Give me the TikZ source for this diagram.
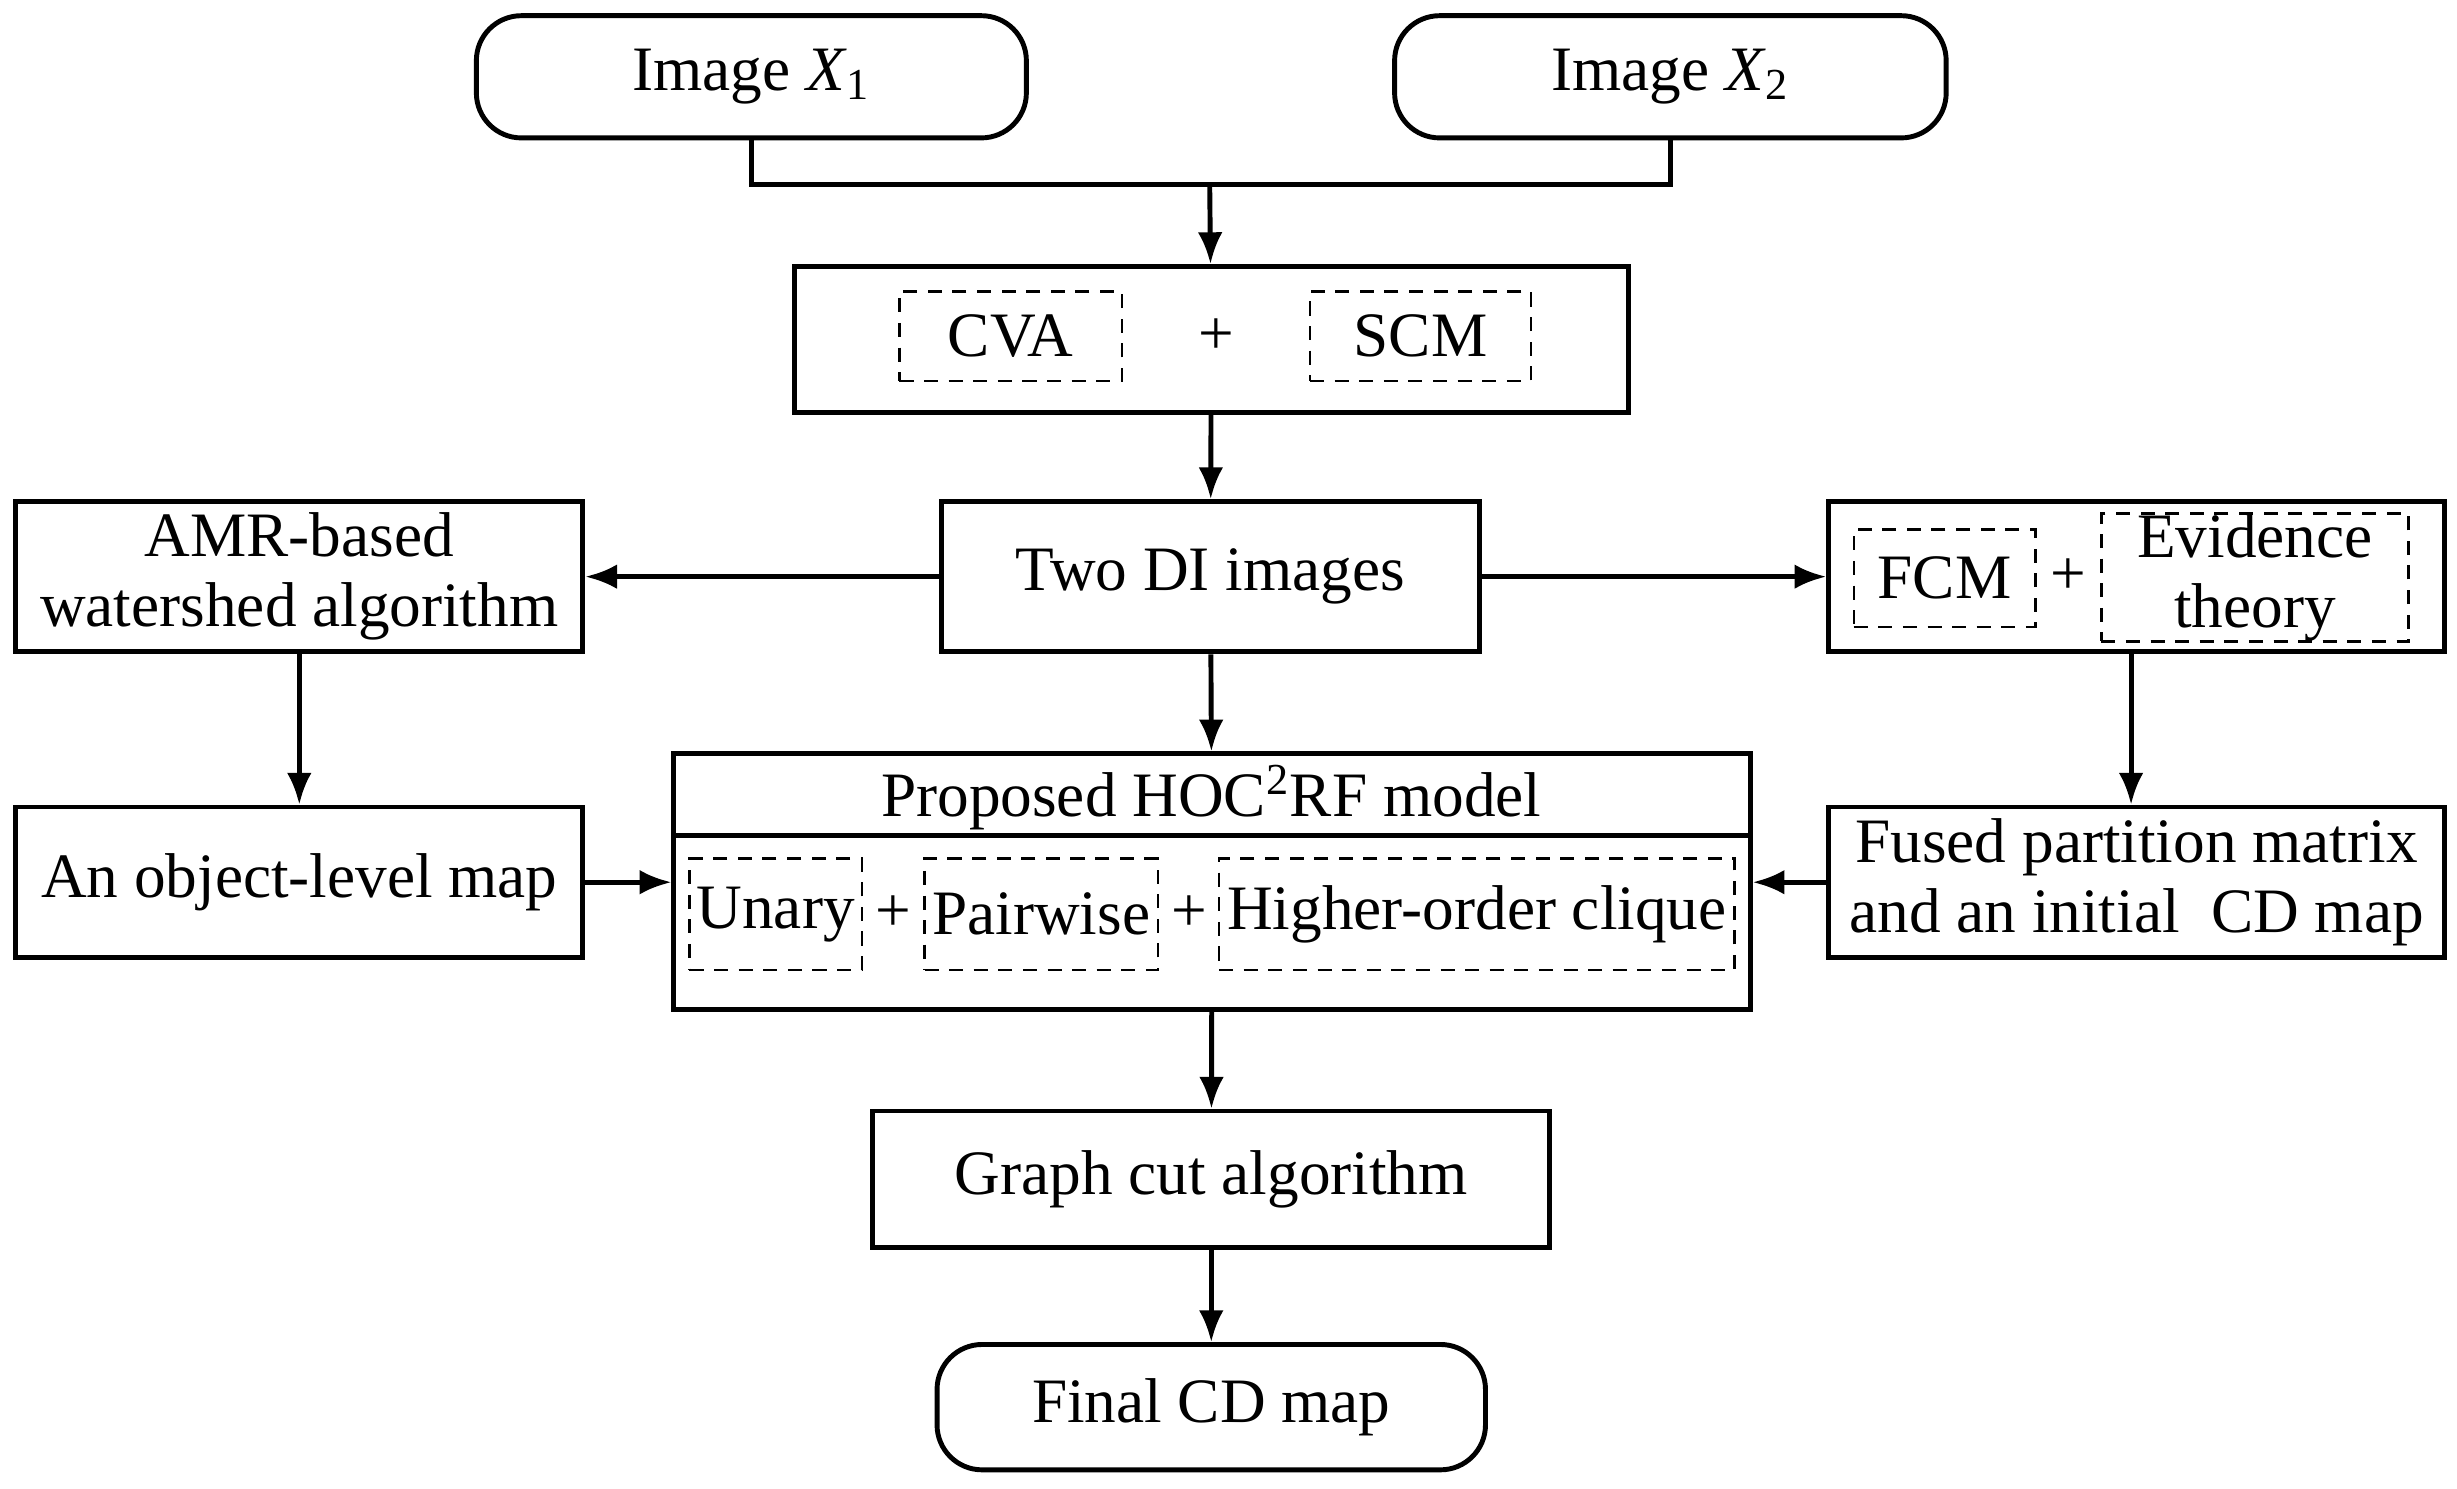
\documentclass[tikz,border=0pt]{standalone}
\usepackage{fontspec}
\setmainfont{Liberation Serif}
\usetikzlibrary{arrows.meta}
\newcommand\bx[7]{\node[#1,minimum width={(#5-#3)*0.01567cm},minimum height={(#6-#4)*0.01567cm}] (#2) at ({(#3+#5)/2},{-(#4+#6)/2}) {#7};}
\begin{document}
\begin{tikzpicture}[x=0.01567cm,y=0.01567cm,
  every node/.style={font=\fontsize{18}{20}\selectfont,inner sep=0pt,align=center},
  box/.style={draw,line width=1.4pt},
  rbox/.style={box,rounded corners=0.45cm},
  dbox/.style={draw,dashed,line width=0.7pt,dash pattern=on 4pt off 3pt},
  arr/.style={line width=1.4pt,-{Latex[length=9pt,width=7pt]}},
  ln/.style={line width=1.4pt}]
\useasboundingbox (0,0) rectangle (1568,-950);
\bx{rbox}{x1}{304}{10}{655}{88}{Image \textit{X}\textsubscript{1}}
\bx{rbox}{x2}{890}{10}{1242}{88}{Image \textit{X}\textsubscript{2}}
\coordinate (j) at (772,-118);
\draw[ln] (x1.south) |- (j) -| (x2.south);
\bx{box}{cva}{507}{170}{1039}{263}{}
\bx{dbox}{cvai}{574}{186}{716}{243}{CVA}
\bx{dbox}{scm}{836}{186}{977}{243}{SCM}
\node (p1) at (776,-215) {+};
\draw[arr] (j) -- (cva);
\bx{box}{di}{601}{320}{944}{416}{Two DI images}
\draw[arr] (cva) -- (di);
\bx{box}{amr}{10}{320}{372}{416}{AMR-based\\watershed algorithm}
\draw[arr] (di) -- (amr);
\bx{box}{fe}{1167}{320}{1560}{416}{}
\bx{dbox}{fcm}{1183}{338}{1299}{400}{FCM}
\bx{dbox}{ev}{1341}{330}{1537}{407}{Evidence\\theory}
\node (p2) at (1320,-368) {+};
\draw[arr] (di) -- (fe);
\bx{box}{obj}{10}{515}{372}{611}{An object-level map}
\draw[arr] (amr) -- (obj);
\bx{box}{hoc}{430}{481}{1117}{644}{}
\node (ht) at (773,-509) {Proposed HOC\textsuperscript{2}RF model};
\draw[ln] (hoc.west |- 0,-533) -- (hoc.east |- 0,-533);
\bx{dbox}{un}{440}{548}{550}{619}{Unary}
\bx{dbox}{pw}{590}{548}{739}{619}{Pairwise}
\bx{dbox}{hi}{778}{548}{1107}{619}{Higher-order clique}
\node (p3) at (570,-583) {+};
\node (p4) at (759,-583) {+};
\draw[arr] (di) -- (hoc);
\draw[arr] (obj) -- (obj -| hoc.west);
\bx{box}{fu}{1167}{515}{1560}{611}{Fused partition matrix\\and an initial\ \ CD map}
\draw[arr] (fe.south -| 1360,0) -- (fu.north -| 1360,0);
\draw[arr] (fu) -- (fu -| hoc.east);
\bx{box}{gc}{557}{709}{989}{796}{Graph cut algorithm}
\draw[arr] (hoc) -- (gc);
\bx{rbox}{fin}{598}{858}{948}{938}{Final CD map}
\draw[arr] (gc) -- (fin);
\end{tikzpicture}
\end{document}
